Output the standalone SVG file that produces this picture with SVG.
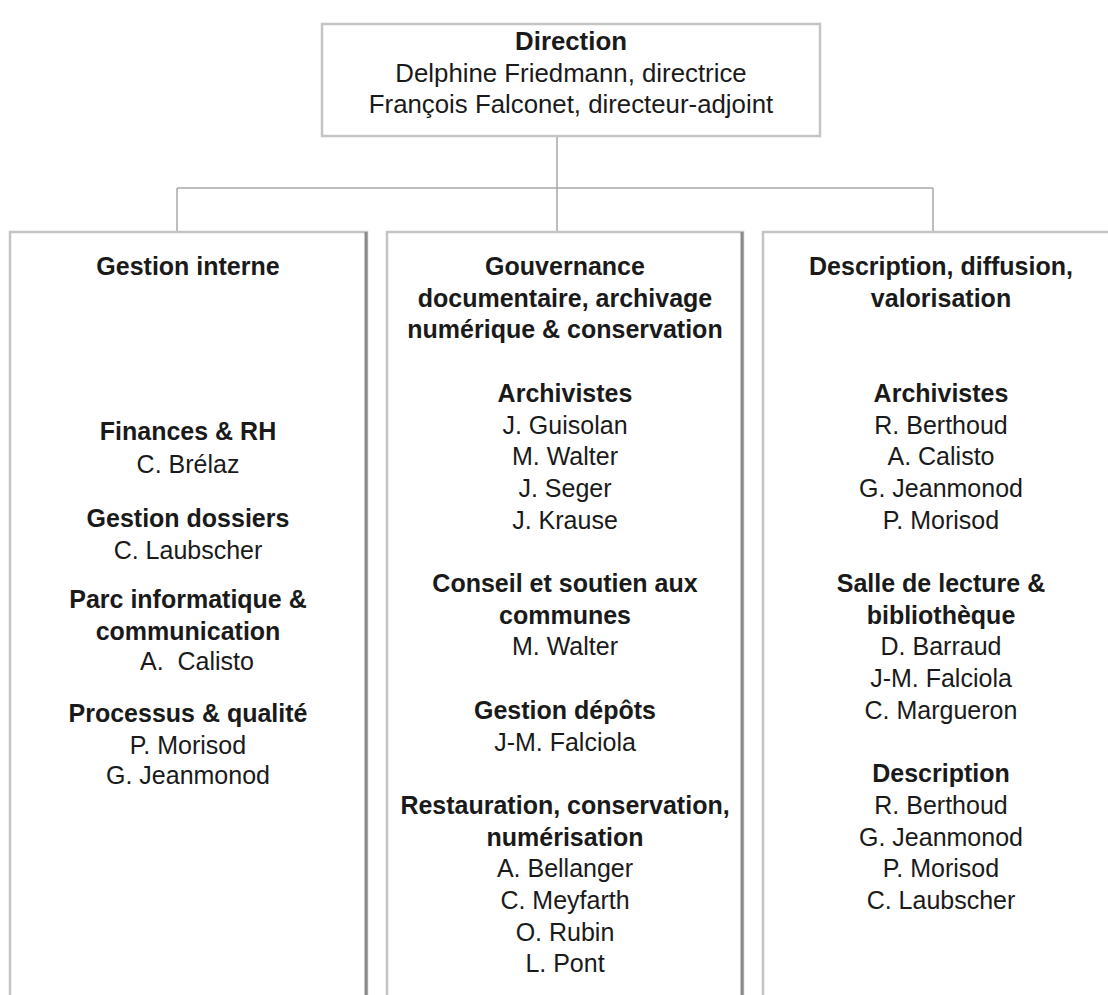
<svg xmlns="http://www.w3.org/2000/svg" width="1108" height="995" viewBox="0 0 1108 995">
<style>
.box{fill:#fff;stroke:#c4c4c4;stroke-width:2.5}
.edge{stroke:#8a8a8a;stroke-width:3}
.con{stroke:#a8a8a8;stroke-width:1.5;fill:none}
text{font-family:"Liberation Sans",Arial,sans-serif;font-size:25px;fill:#1a1a1a;text-anchor:middle;white-space:pre}
.h{font-weight:bold}
.t{font-size:25.8px}
</style>
<rect width="1108" height="995" fill="#fff"/>
<g id="connectors">
<path class="con" d="M557 136V188M177 188H933M177 188V232M557 188V232M933 188V232"/>
</g>
<g id="direction">
<rect class="box" x="322" y="24" width="498" height="112"/>
<text x="571" y="50" class="h t">Direction</text>
<text x="571" y="82" class="t">Delphine Friedmann, directrice</text>
<text x="571" y="113" class="t">François Falconet, directeur-adjoint</text>
</g>
<g id="gestion-interne">
<rect class="box" x="10" y="232" width="357" height="780"/>
<line class="edge" x1="366" y1="232" x2="366" y2="995"/>
<text x="188" y="275" class="h">Gestion interne</text>
<text x="188" y="439.8" class="h">Finances &amp; RH</text>
<text x="188" y="473.1">C. Brélaz</text>
<text x="188" y="527" class="h">Gestion dossiers</text>
<text x="188" y="558.7">C. Laubscher</text>
<text x="188" y="607.9" class="h">Parc informatique &amp;</text>
<text x="188" y="639.6" class="h">communication</text>
<text x="197" y="669.7">A.  Calisto</text>
<text x="188" y="722" class="h">Processus &amp; qualité</text>
<text x="188" y="753.7">P. Morisod</text>
<text x="188" y="783.8">G. Jeanmonod</text>
</g>
<g id="gouvernance">
<rect class="box" x="387" y="232" width="356" height="780"/>
<line class="edge" x1="742" y1="232" x2="742" y2="995"/>
<text x="565" y="275" class="h">Gouvernance</text>
<text x="565" y="306.7" class="h">documentaire, archivage</text>
<text x="565" y="338.4" class="h">numérique &amp; conservation</text>
<text x="565" y="401.8" class="h">Archivistes</text>
<text x="565" y="433.5">J. Guisolan</text>
<text x="565" y="465.2">M. Walter</text>
<text x="565" y="496.9">J. Seger</text>
<text x="565" y="528.6">J. Krause</text>
<text x="565" y="592" class="h">Conseil et soutien aux</text>
<text x="565" y="623.7" class="h">communes</text>
<text x="565" y="655.4">M. Walter</text>
<text x="565" y="718.8" class="h">Gestion dépôts</text>
<text x="565" y="750.5">J-M. Falciola</text>
<text x="565" y="813.9" class="h">Restauration, conservation,</text>
<text x="565" y="845.6" class="h">numérisation</text>
<text x="565" y="877.3">A. Bellanger</text>
<text x="565" y="909">C. Meyfarth</text>
<text x="565" y="940.7">O. Rubin</text>
<text x="565" y="972.4">L. Pont</text>
</g>
<g id="description">
<rect class="box" x="763" y="232" width="356" height="780"/>
<text x="941" y="275" class="h">Description, diffusion,</text>
<text x="941" y="306.7" class="h">valorisation</text>
<text x="941" y="401.8" class="h">Archivistes</text>
<text x="941" y="433.5">R. Berthoud</text>
<text x="941" y="465.2">A. Calisto</text>
<text x="941" y="496.9">G. Jeanmonod</text>
<text x="941" y="528.6">P. Morisod</text>
<text x="941" y="592" class="h">Salle de lecture &amp;</text>
<text x="941" y="623.7" class="h">bibliothèque</text>
<text x="941" y="655.4">D. Barraud</text>
<text x="941" y="687.1">J-M. Falciola</text>
<text x="941" y="718.8">C. Margueron</text>
<text x="941" y="782.2" class="h">Description</text>
<text x="941" y="813.9">R. Berthoud</text>
<text x="941" y="845.6">G. Jeanmonod</text>
<text x="941" y="877.3">P. Morisod</text>
<text x="941" y="909">C. Laubscher</text>
</g>
</svg>
